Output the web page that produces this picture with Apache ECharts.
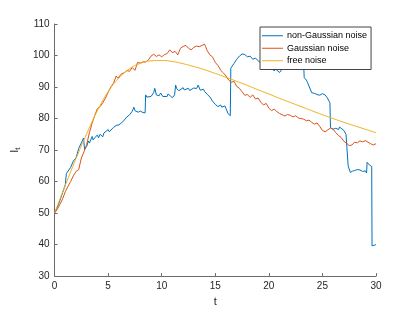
<!DOCTYPE html>
<html>
<head>
<meta charset="utf-8">
<script src="https://cdn.jsdelivr.net/npm/echarts@6/dist/echarts.min.js"></script>
<style>html,body{margin:0;padding:0;background:#fff;}#c{width:415px;height:312px;}</style>
</head>
<body>
<div id="c"></div>
<script>
var seriesNames = ['non-Gaussian noise', 'Gaussian noise', 'free noise'];
var xTicks = [0, 5, 10, 15, 20, 25, 30];
var yTicks = [30, 40, 50, 60, 70, 80, 90, 100, 110];

// non-Gaussian noise: [t, value] pairs (includes jumps)
var nonGaussian = [[0,50],[0.25,51.8],[0.5,54],[0.75,56.5],[1,59],[1.1,62.5],[1.25,62.8],[1.5,64.5],[1.75,66.5],[2,67.5],[2.25,70.5],[2.5,72.3],[2.7,73.8],[2.8,70.2],[3,71.2],[3.15,72.9],[3.25,72.2],[3.5,74.3],[3.6,73.2],[3.75,73.9],[4,74.8],[4.1,73.9],[4.25,75],[4.5,74.2],[4.6,75.4],[4.75,75.8],[5,76.5],[5.1,75.8],[5.25,76.2],[5.5,77.2],[5.6,76.8],[5.75,77.8],[6,78],[6.1,77.7],[6.25,78.6],[6.5,79.5],[6.6,79.1],[6.75,80.5],[7,81.2],[7.1,80.7],[7.25,82.3],[7.4,83.6],[7.5,82.5],[7.6,82.2],[7.8,82],[8,82.4],[8.1,82.8],[8.25,81.9],[8.45,81.8],[8.5,87.5],[8.6,86.8],[8.75,86.4],[9,87],[9.1,87.6],[9.25,88.2],[9.35,89.6],[9.5,87.5],[9.75,87.2],[9.9,88.1],[10,87.8],[10.1,87],[10.25,87.3],[10.5,87],[10.6,87.8],[10.75,87.5],[11,86.6],[11.2,87.5],[11.3,90.6],[11.4,89.5],[11.5,89.3],[11.6,88.8],[11.75,89.3],[12,89.8],[12.1,89.1],[12.25,89.4],[12.5,89.6],[12.6,88.9],[12.75,89.2],[13,89.7],[13.1,89.1],[13.25,89.5],[13.4,90.6],[13.6,89],[13.75,88.9],[13.9,89.3],[14,88.6],[14.25,87.7],[14.4,88],[14.5,86.8],[14.75,85.5],[15,84.5],[15.1,84],[15.25,83.8],[15.5,84.3],[15.6,83.6],[15.75,83.5],[15.9,84],[16,83.2],[16.2,81.5],[16.3,81.8],[16.4,80.9],[16.45,96],[16.6,96.4],[16.75,97.5],[17,98.8],[17.1,98.4],[17.25,99.8],[17.5,100.5],[17.6,100],[17.75,100.3],[18,99.6],[18.1,99.1],[18.25,99.8],[18.5,98.8],[18.6,99.4],[18.75,99.2],[19,98.3],[19.1,98.8],[19.25,97.7],[19.5,98.4],[19.6,97.8],[19.75,97.4],[20,96.7],[20.1,97.1],[20.25,96],[20.5,95.1],[20.6,95.8],[20.75,95.3],[21,94.6],[21.1,95],[21.25,95.8],[21.5,96.3],[21.6,95.7],[21.75,96.6],[22,96.4],[22.1,96.9],[22.25,97],[22.5,96.3],[22.6,96.8],[22.75,97],[23,96.8],[23.1,96.2],[23.25,97],[23.3,93],[23.5,92.2],[23.6,91.5],[23.75,91.2],[24,88.2],[24.25,88],[24.5,87.6],[24.6,87.1],[24.75,87.4],[25,87.9],[25.1,87.6],[25.25,87.5],[25.45,86.6],[25.7,85],[25.75,77.1],[26,76.6],[26.1,77.2],[26.25,76.9],[26.5,76.5],[26.6,77.3],[26.75,77],[27,76.2],[27.2,75],[27.35,74.5],[27.4,65],[27.6,62.9],[27.8,63.3],[28,63.5],[28.1,63.1],[28.25,63.8],[28.5,63.7],[28.75,63.2],[29,63.4],[29.12,62.7],[29.17,66.1],[29.4,65.2],[29.6,64.8],[29.63,39.6],[29.85,39.8],[30,40]];

// Gaussian noise: [t, value]
var gaussian = [[0,50],[0.25,51.2],[0.5,52.8],[0.75,54.5],[1,56.8],[1.25,58.5],[1.5,60],[1.75,61.8],[2,63.2],[2.25,63.8],[2.5,67.5],[2.75,69.5],[3,71.8],[3.25,75.5],[3.5,78.5],[3.75,81],[4,83.2],[4.1,82.7],[4.25,83.8],[4.5,85],[4.6,84.6],[4.75,86.5],[5,88.3],[5.25,90],[5.5,91.2],[5.75,93.5],[5.9,92.8],[6,93.3],[6.25,94.2],[6.4,93.8],[6.5,94.5],[6.75,95.2],[6.9,94.7],[7,95],[7.25,96.2],[7.5,95.3],[7.75,97.8],[7.9,97.2],[8,97.6],[8.25,98],[8.4,97.5],[8.5,97.9],[8.75,98.6],[9,99.8],[9.1,99.3],[9.25,100.4],[9.5,99.7],[9.6,100.3],[9.75,100.2],[10,99.6],[10.1,100.1],[10.25,100.3],[10.5,100.6],[10.75,101.8],[10.9,101.3],[11,100.9],[11.25,101.3],[11.5,100.2],[11.75,102.3],[11.9,102.6],[12,102.9],[12.1,102.3],[12.25,103.2],[12.5,102.3],[12.75,101.8],[12.9,102.3],[13,102.6],[13.1,102.2],[13.25,103],[13.5,102.8],[13.6,103.3],[13.75,103.2],[14,103.6],[14.1,102.8],[14.25,101.5],[14.5,100.2],[14.75,99.5],[14.9,98.5],[15,97.8],[15.25,96.8],[15.4,96],[15.5,95.3],[15.75,94.5],[16,93.5],[16.25,92.2],[16.5,91.5],[16.75,91.8],[17,90.2],[17.1,90.5],[17.25,89.6],[17.5,88.5],[17.75,87.4],[18,87.6],[18.25,86.7],[18.5,87.5],[18.75,86.2],[19,86.5],[19.25,85.2],[19.5,84.3],[19.75,84.8],[20,83.3],[20.25,82.5],[20.5,83],[20.75,82.2],[21,81.6],[21.1,81.9],[21.25,81.2],[21.5,80.8],[21.75,81.3],[22,81],[22.25,80.5],[22.5,80.9],[22.75,80.2],[23,80],[23.1,80.3],[23.25,79.8],[23.5,79.3],[23.75,79.5],[24,78.8],[24.25,78.2],[24.5,78.6],[24.75,77.5],[25,76.2],[25.25,75.8],[25.5,76.4],[25.75,77],[26,76.6],[26.25,75.5],[26.5,74.6],[26.75,74],[27,72.8],[27.25,72.2],[27.5,71.4],[27.75,71.6],[28,72.5],[28.25,72.3],[28.5,72.9],[28.75,72.6],[29,73],[29.25,72.5],[29.5,72],[29.75,71.6],[30,72]];

// free noise: [t, value]
var freeNoise = [[0,50],[1,58.8],[2,67.3],[3,75.2],[4,82.5],[5,88.5],[6,92.8],[7,95.8],[8,97.5],[9,98.3],[10,98.4],[11,98.1],[12,97.4],[13,96.5],[14,95.5],[15,94.3],[16,93.1],[17,91.8],[18,90.5],[19,89.1],[20,87.8],[21,86.4],[22,85.1],[23,83.8],[24,82.5],[25,81.2],[26,80],[27,78.8],[28,77.7],[29,76.6],[30,75.5]];

var FONT = 'Liberation Sans';
var AX = '#262626';
var AXL = '#6b6b6b';
var chart = echarts.init(document.getElementById('c'), null, {renderer: 'canvas'});
chart.setOption({
  animation: false,
  backgroundColor: '#fff',
  grid: {left: 54, right: 39, top: 24, bottom: 34},
  legend: {
    data: seriesNames,
    orient: 'vertical',
    left: 260, top: 27,
    padding: [3, 4, 3, 2],
    itemWidth: 21, itemHeight: 1, itemGap: 1,
    icon: 'rect',
    backgroundColor: '#fff',
    borderColor: '#444', borderWidth: 1,
    textStyle: {fontFamily: FONT, fontSize: 9, color: '#000', lineHeight: 11.5, padding: [0,0,0,-1]}
  },
  xAxis: {
    type: 'value', min: xTicks[0], max: xTicks[xTicks.length-1], interval: 5,
    name: 't', nameLocation: 'middle', nameGap: 19,
    nameTextStyle: {fontFamily: FONT, fontSize: 11, color: AX},
    axisLine: {show: true, lineStyle: {color: AXL, width: 1}},
    axisTick: {show: true, inside: true, length: 3, lineStyle: {color: AXL}},
    axisLabel: {fontFamily: FONT, fontSize: 10, color: AX, margin: 5},
    splitLine: {show: false}
  },
  yAxis: {
    type: 'value', min: yTicks[0], max: yTicks[yTicks.length-1], interval: 10,
    name: '{i|I}{s|t}', nameLocation: 'middle', nameGap: 30,
    nameTextStyle: {
      fontFamily: FONT, color: AX,
      rich: {
        i: {fontFamily: FONT, fontSize: 11, color: AX, lineHeight: 14},
        s: {fontFamily: FONT, fontSize: 8, color: AX, lineHeight: 14, padding: [6, 0, 0, 0]}
      }
    },
    axisLine: {show: true, lineStyle: {color: AXL, width: 1}},
    axisTick: {show: true, inside: true, length: 3, lineStyle: {color: AXL}},
    axisLabel: {fontFamily: FONT, fontSize: 10, color: AX, margin: 5},
    splitLine: {show: false}
  },
  series: [
    {name: seriesNames[0], type: 'line', data: nonGaussian, showSymbol: false, symbol: 'none',
     lineStyle: {color: '#0072BD', width: 1}, itemStyle: {color: '#0072BD'}},
    {name: seriesNames[1], type: 'line', data: gaussian, showSymbol: false, symbol: 'none',
     lineStyle: {color: '#D95319', width: 1}, itemStyle: {color: '#D95319'}},
    {name: seriesNames[2], type: 'line', data: freeNoise, showSymbol: false, symbol: 'none', smooth: true,
     lineStyle: {color: '#EDB120', width: 1}, itemStyle: {color: '#EDB120'}}
  ]
});
</script>
</body>
</html>
